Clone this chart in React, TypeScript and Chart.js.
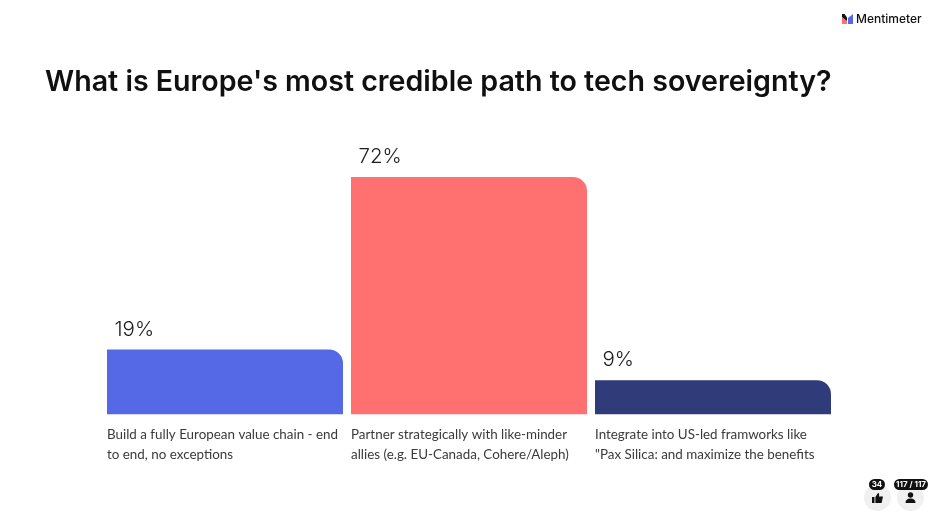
import React, { useEffect, useRef } from 'react';
import { Chart, registerables } from 'chart.js';

Chart.register(...registerables);

const titleText = "What is Europe's most credible path to tech sovereignty?";
const categories = [
  ['Build a fully European value chain - end', 'to end, no exceptions'],
  ['Partner strategically with like-minder', 'allies (e.g. EU-Canada, Cohere/Aleph)'],
  ['Integrate into US-led framworks like', '"Pax Silica: and maximize the benefits'],
];
// printed percentages
const percentLabels = ['19%', '72%', '9%'];
// bar heights as drawn, short bars sit a little above their printed share
const barValues = [19.7, 72, 10.4];
const barColors = ['#5569E6', '#FF7171', '#303B7A'];
const reactionCount = '34';
const voterCount = '117 / 117';

const FONT = 'Inter, "Noto Sans", sans-serif';

const percentPlugin = {
  id: 'percentLabels',
  afterDatasetsDraw(chart: any) {
    const ctx = chart.ctx;
    const bars = chart.getDatasetMeta(0).data;
    ctx.save();
    ctx.font = `300 20.5px ${FONT}`;
    ctx.fillStyle = '#1c1c1c';
    ctx.textAlign = 'left';
    ctx.textBaseline = 'alphabetic';
    bars.forEach((bar: any, i: number) => {
      ctx.fillText(percentLabels[i], bar.x - bar.width / 2 + 7.5, bar.y - 14);
    });
    ctx.restore();
  },
};

const Badge: React.FC<{ text: string; right: number; width: number }> = ({ text, right, width }) => (
  <div
    style={{
      position: 'absolute', top: 479, right, width, height: 11, borderRadius: 6,
      background: '#111', color: '#fff', font: `700 8px ${FONT}`, lineHeight: '11px',
      textAlign: 'center', zIndex: 2,
    }}
  >
    {text}
  </div>
);

const App: React.FC = () => {
  const chartRef = useRef<HTMLCanvasElement>(null);

  useEffect(() => {
    if (!chartRef.current) return;
    const chart = new Chart(chartRef.current, {
      type: 'bar',
      data: {
        labels: categories,
        datasets: [{
          data: barValues,
          backgroundColor: barColors,
          borderRadius: { topLeft: 0, topRight: 14, bottomLeft: 0, bottomRight: 0 },
          borderSkipped: false,
          barPercentage: 236 / 244,
          categoryPercentage: 1,
        }],
      },
      options: {
        responsive: true,
        maintainAspectRatio: false,
        animation: false,
        layout: { padding: { left: 103, right: 101, top: 177, bottom: 0 } },
        plugins: { legend: { display: false }, tooltip: { enabled: false } },
        scales: {
          x: {
            grid: { display: false },
            border: { display: false },
            ticks: {
              align: 'start',
              labelOffset: -118,
              autoSkip: false,
              maxRotation: 0,
              minRotation: 0,
              padding: 2,
              color: '#3a3a3a',
              font: { family: 'Lato', size: 13.4, lineHeight: 1.5 },
            },
            afterFit: (scale: any) => {
              scale.height = 105.5;
              scale.paddingLeft = 0;
              scale.paddingRight = 0;
            },
          },
          y: {
            display: false,
            min: 0,
            max: 72,
          },
        },
      },
      plugins: [percentPlugin],
    } as any);
    return () => chart.destroy();
  }, []);

  return (
    <div style={{ position: 'fixed', left: 0, top: 0, width: 936, height: 520, background: '#fff', overflow: 'hidden' }}>
      <canvas ref={chartRef} />
      <div style={{ position: 'absolute', left: 45, top: 62, font: `600 28.6px ${FONT}`, lineHeight: '38px', color: '#101010', whiteSpace: 'nowrap' }}>
        {titleText}
      </div>
      <svg style={{ position: 'absolute', left: 842, top: 14 }} width={11} height={10} viewBox="0 0 11 10">
        <path d="M6 4 L11 0 V10 H6 Z" fill="#5569E6" />
        <path d="M0 3 L5 7 V10 H0 Z" fill="#FF7171" />
        <path d="M0 0 H2.5 L5 3.5 V7 L0 3 Z" fill="#111" />
      </svg>
      <div style={{ position: 'absolute', left: 856, top: 11, font: `500 12px ${FONT}`, lineHeight: '16px', color: '#111', whiteSpace: 'nowrap' }}>
        Mentimeter
      </div>
      <div style={{ position: 'absolute', left: 864, top: 484, width: 27, height: 27, borderRadius: 14, background: '#f0f0f0' }} />
      <div style={{ position: 'absolute', left: 897, top: 484, width: 27, height: 27, borderRadius: 14, background: '#f0f0f0' }} />
      <svg style={{ position: 'absolute', left: 872, top: 493 }} width={11} height={10} viewBox="0 0 11 10">
        <path d="M0 4 H2.5 V10 H0 Z M3.4 4 L6 0 Q7.5 0 7.2 2 L6.9 3.6 H11 L9.6 10 H3.4 Z" fill="#111" />
      </svg>
      <svg style={{ position: 'absolute', left: 905, top: 492 }} width={11} height={12} viewBox="0 0 11 12">
        <circle cx={5.5} cy={3} r={2.7} fill="#111" />
        <path d="M0.5 11 Q0.5 6.5 5.5 6.5 Q10.5 6.5 10.5 11 Z" fill="#111" />
      </svg>
      <Badge text={reactionCount} right={51} width={16} />
      <Badge text={voterCount} right={8} width={34} />
    </div>
  );
};

export default App;
